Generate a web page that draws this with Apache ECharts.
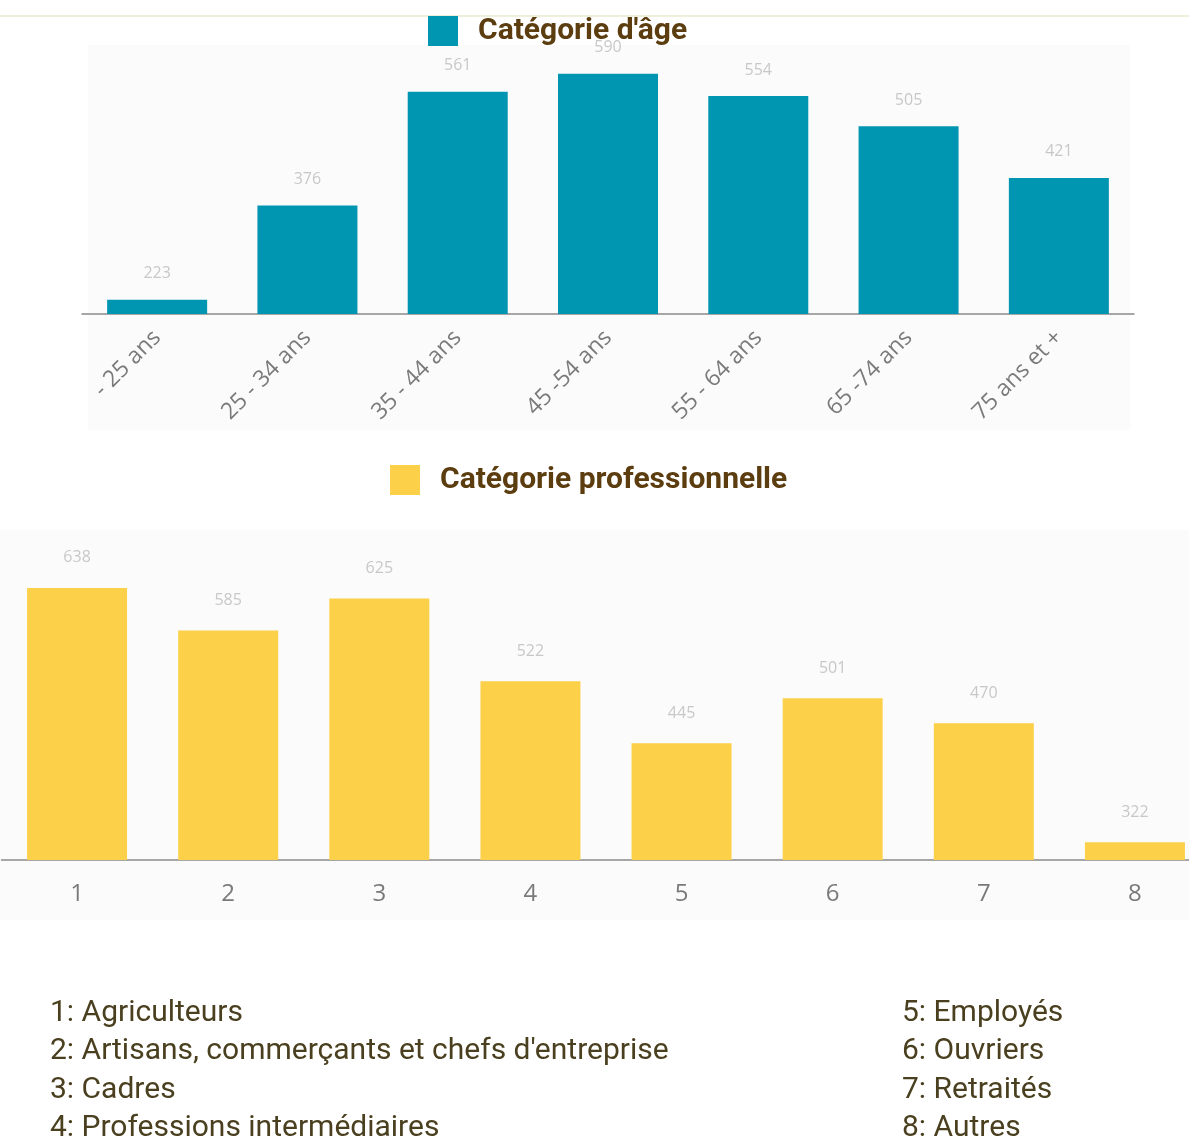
<!DOCTYPE html>
<html>
<head>
<meta charset="utf-8">
<script src="https://cdn.jsdelivr.net/npm/echarts@6/dist/echarts.min.js"></script>
<style>
html,body{margin:0;padding:0;background:#fff;overflow:hidden;}
#c{width:1240px;height:1140px;}
</style>
</head>
<body>
<div id="c"></div>
<script>
const ageCategories = ['- 25 ans', '25 - 34 ans', '35 - 44 ans', '45 -54 ans', '55 - 64 ans', '65 -74 ans', '75 ans et +'];
const ageValues = [223, 376, 561, 590, 554, 505, 421];
const proCategories = ['1', '2', '3', '4', '5', '6', '7', '8'];
const proValues = [638, 585, 625, 522, 445, 501, 470, 322];
const proLegendLeft = ['1: Agriculteurs', "2: Artisans, commerçants et chefs d'entreprise", '3: Cadres', '4: Professions intermédiaires'];
const proLegendRight = ['5: Employés', '6: Ouvriers', '7: Retraités', '8: Autres'];

const chart = echarts.init(document.getElementById('c'), null, {renderer: 'canvas'});

const footerText = [];
proLegendLeft.forEach((t, i) => footerText.push({type: 'text', left: 50, top: 998 + i * 38.5, style: {text: t, font: '30px Roboto', fill: '#4a4020'}}));
proLegendRight.forEach((t, i) => footerText.push({type: 'text', left: 902, top: 998 + i * 38.5, style: {text: t, font: '30px Roboto', fill: '#4a4020'}}));

const axisLabelStyle = {color: '#7a7a7a', fontFamily: 'Open Sans'};

chart.setOption({
  animation: false,
  backgroundColor: '#ffffff',
  graphic: [
    {type: 'rect', shape: {x: 0, y: 15, width: 1240, height: 2}, style: {fill: '#eff0dc'}, z: -10},
    {type: 'rect', shape: {x: 88, y: 45, width: 1042, height: 385}, style: {fill: '#fbfbfb'}, z: -10},
    {type: 'rect', shape: {x: 0, y: 530, width: 1240, height: 390}, style: {fill: '#fbfbfb'}, z: -10}
  ].concat(footerText),
  legend: [
    {data: ['Catégorie d\'âge'], left: 423, top: 11, itemWidth: 30, itemHeight: 30, icon: 'rect',
     textStyle: {fontFamily: 'Roboto', fontWeight: 'bold', fontSize: 30, color: '#5c3d0f', padding: [0, 0, 0, 15]}},
    {data: ['Catégorie professionnelle'], left: 385, top: 460, itemWidth: 30, itemHeight: 30, icon: 'rect',
     textStyle: {fontFamily: 'Roboto', fontWeight: 'bold', fontSize: 30, color: '#5c3d0f', padding: [0, 0, 0, 15]}}
  ],
  grid: [
    {left: 82, width: 1052, top: 43, height: 271},
    {left: 1.5, width: 1209, top: 538, height: 322}
  ],
  xAxis: [
    {type: 'category', gridIndex: 0, data: ageCategories,
     axisLine: {lineStyle: {color: '#8a8a8a', width: 1.5}},
     axisTick: {alignWithLabel: true, length: 3, lineStyle: {color: '#8a8a8a'}},
     axisLabel: Object.assign({rotate: 45, fontSize: 23, margin: 20, interval: 0}, axisLabelStyle)},
    {type: 'category', gridIndex: 1, data: proCategories,
     axisLine: {lineStyle: {color: '#8a8a8a', width: 1.5}},
     axisTick: {alignWithLabel: true, length: 3, lineStyle: {color: '#8a8a8a'}},
     axisLabel: Object.assign({fontSize: 24, margin: 22, interval: 0}, axisLabelStyle)}
  ],
  yAxis: [
    {type: 'value', gridIndex: 0, min: 200, max: 640, show: false},
    {type: 'value', gridIndex: 1, min: 300, max: 700, show: false}
  ],
  series: [
    {name: 'Catégorie d\'âge', type: 'bar', xAxisIndex: 0, yAxisIndex: 0, data: ageValues,
     barWidth: 100, itemStyle: {color: '#0095b1'},
     label: {show: true, position: 'top', distance: 18, color: '#c8c8c8', fontSize: 16, fontFamily: 'Open Sans'}},
    {name: 'Catégorie professionnelle', type: 'bar', xAxisIndex: 1, yAxisIndex: 1, data: proValues,
     barWidth: 100, itemStyle: {color: '#fdd049'},
     label: {show: true, position: 'top', distance: 22, color: '#c8c8c8', fontSize: 16, fontFamily: 'Open Sans'}}
  ]
});
</script>
</body>
</html>
